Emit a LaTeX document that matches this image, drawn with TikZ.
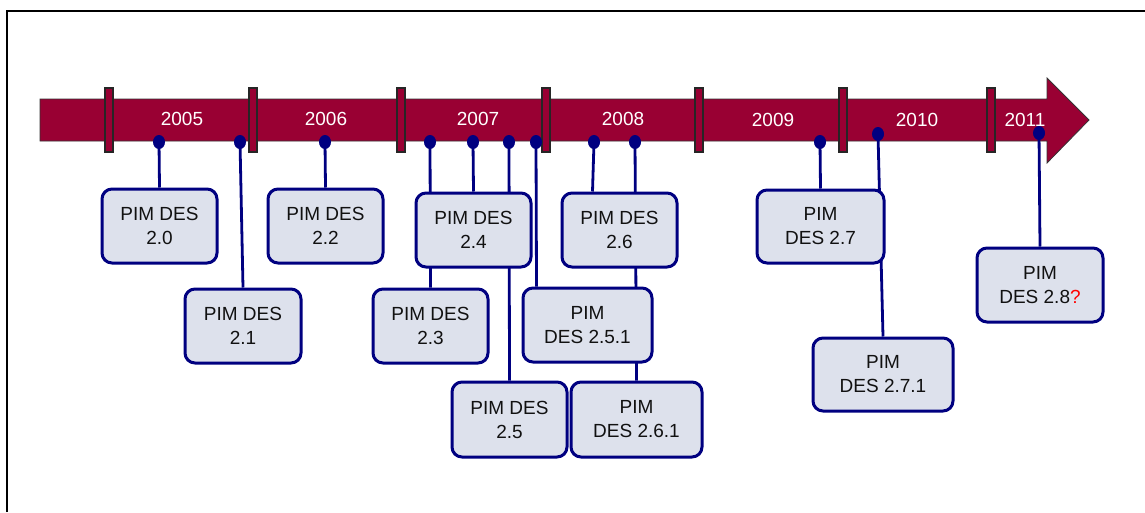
\documentclass[tikz,border=0pt]{standalone}
\usepackage{fontspec}
\setmainfont{Liberation Sans}
\usetikzlibrary{shapes.geometric,calc}
\definecolor{barred}{HTML}{990033}
\definecolor{navyblue}{HTML}{000080}
\definecolor{boxfill}{HTML}{DDE1EC}
\definecolor{txt}{HTML}{111111}
\pgfdeclarelayer{barlayer}
\pgfdeclarelayer{linelayer}
\pgfsetlayers{barlayer,linelayer,main}
\tikzset{
  tick/.style={draw=black!85, line width=1.2pt, fill=barred},
  yearlbl/.style={text=white, font=\fontsize{19}{23}\selectfont, inner sep=0},
  dot/.style={ellipse, fill=navyblue, minimum width=12, minimum height=14, inner sep=0},
  conn/.style={draw=navyblue, line width=2.8pt},
  pbox/.style={draw=navyblue, line width=3pt, fill=boxfill, rounded corners=10pt,
    align=center, text=txt, font=\fontsize{19}{24}\selectfont, inner sep=0},
}
\begin{document}
\begin{tikzpicture}[x=1pt,y=-1pt]
\useasboundingbox (0,0) rectangle (1145,512);
% frame
\draw[line width=2.2pt] (7,512) -- (7,11) -- (1145,11);
% timeline
\begin{pgfonlayer}{barlayer}
\draw[fill=barred, draw=black!80, line width=0.8pt]
  (40,99) -- (1047,99) -- (1047,78) -- (1089,120) -- (1047,163) -- (1047,141) -- (40,141) -- cycle;
\foreach \x in {109,253,401,546,699,843,991}
  \draw[tick] (\x-4,88) rectangle (\x+4,152);
\node[yearlbl] (y05) at (182,119) {2005};
\node[yearlbl] (y06) at (326,119) {2006};
\node[yearlbl] (y07) at (478,119) {2007};
\node[yearlbl] (y08) at (623,119) {2008};
\node[yearlbl] (y09) at (773,120) {2009};
\node[yearlbl] (y10) at (917,120) {2010};
\node[yearlbl] (y11) at (1025,120) {2011};
\end{pgfonlayer}
% dots
\node[dot] (d1) at (159,142) {};
\node[dot] (d2) at (240,142) {};
\node[dot] (d3) at (325,142) {};
\node[dot] (d4) at (430,142) {};
\node[dot] (d5) at (473,142) {};
\node[dot] (d6) at (509,142) {};
\node[dot] (d7) at (536,142) {};
\node[dot] (d8) at (594,142) {};
\node[dot] (d9) at (635,142) {};
\node[dot] (d10) at (820,142) {};
\node[dot] (d11) at (878,134) {};
\node[dot] (d12) at (1039,133) {};
% boxes
\node[pbox, minimum width=115, minimum height=74] (b20) at (159.5,226) {PIM DES\\2.0};
\node[pbox, minimum width=116, minimum height=74] (b21) at (243,326) {PIM DES\\2.1};
\node[pbox, minimum width=115, minimum height=74] (b22) at (325.5,226) {PIM DES\\2.2};
\node[pbox, minimum width=115, minimum height=74] (b24) at (473.5,230) {PIM DES\\2.4};
\node[pbox, minimum width=115, minimum height=74] (b23) at (430.5,326) {PIM DES\\2.3};
\node[pbox, minimum width=115, minimum height=75] (b25) at (509.5,419.5) {PIM DES\\2.5};
\node[pbox, minimum width=115, minimum height=74] (b26) at (619.5,230) {PIM DES\\2.6};
\node[pbox, minimum width=129, minimum height=74] (b251) at (587.5,325) {PIM\\DES 2.5.1};
\node[pbox, minimum width=131, minimum height=75] (b261) at (636.5,419.5) {PIM\\DES 2.6.1};
\node[pbox, minimum width=127, minimum height=73] (b27) at (820.5,226.5) {PIM\\DES 2.7};
\node[pbox, minimum width=140, minimum height=73] (b271) at (883,374.5) {PIM\\DES 2.7.1};
\node[pbox, minimum width=126, minimum height=74] (b28) at (1040,285) {PIM\\DES 2.8\textcolor{red}{?}};
% connectors
\begin{pgfonlayer}{linelayer}
\draw[conn] (d1.center) -- (b20.north);
\draw[conn] (d2.center) -- (b21.north);
\draw[conn] (d3.center) -- (b22.north);
\draw[conn] (d4.center) -- (b23.north);
\draw[conn] (d5.center) -- (b24.north);
\draw[conn] (d6.center) -- (b25.north);
\draw[conn] (d7.center) -- ($(b251.north west)+(15,0)$);
\draw[conn] (d8.center) -- ($(b26.north west)+(32,0)$);
\draw[conn] (d9.center) -- (b261.north);
\draw[conn] (d10.center) -- (b27.north);
\draw[conn] (d11.center) -- (b271.north);
\draw[conn] (d12.center) -- (b28.north);
\end{pgfonlayer}
\end{tikzpicture}
\end{document}
